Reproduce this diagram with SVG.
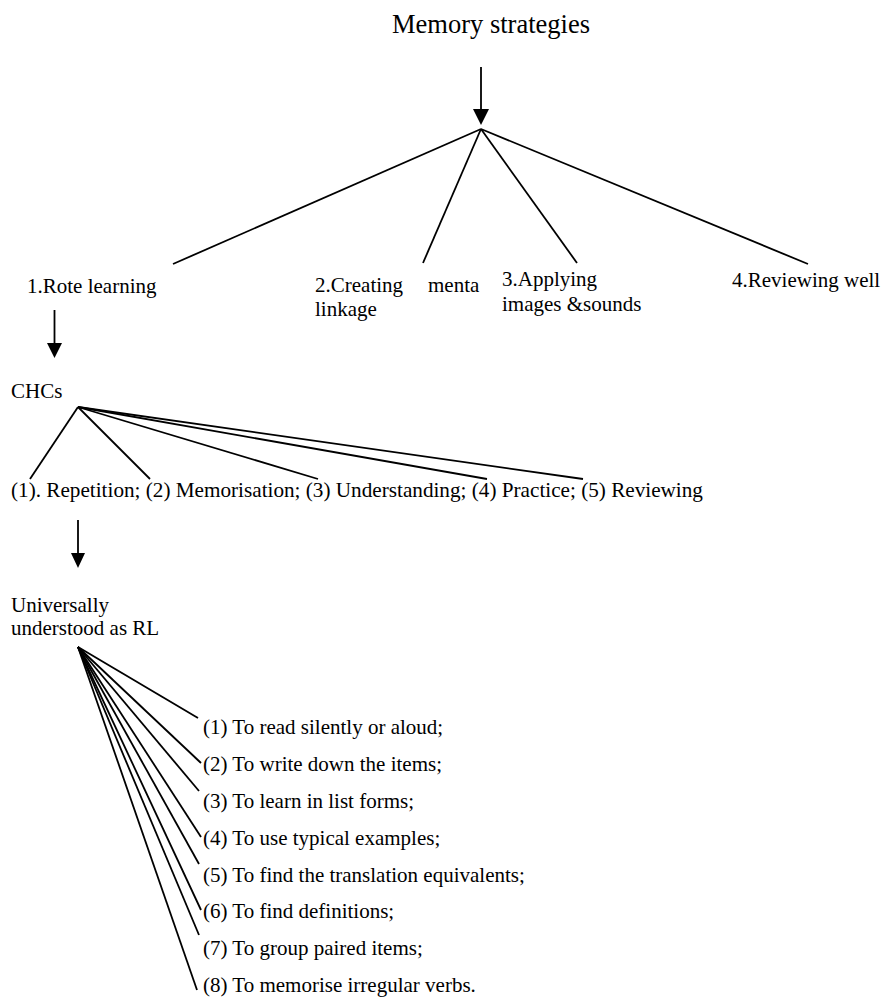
<svg xmlns="http://www.w3.org/2000/svg" width="883" height="997" viewBox="0 0 883 997">
<style>
text{font-family:"Liberation Serif","Times New Roman",serif;font-size:21px;fill:#000}
.title{font-size:26.5px}
.wide{font-size:21.2px}
.ln{stroke:#000;stroke-width:1.8;fill:none}
.hd{fill:#000}
</style>
<rect width="883" height="997" fill="#fff"/>
<g id="connectors">
<line class="ln" x1="481" y1="67" x2="481" y2="111"/>
<polygon class="hd" points="473,109 489,109 481,125"/>
<line class="ln" x1="481" y1="129" x2="173" y2="264"/>
<line class="ln" x1="481" y1="129" x2="423" y2="263"/>
<line class="ln" x1="481" y1="129" x2="577" y2="263"/>
<line class="ln" x1="481" y1="129" x2="808" y2="264"/>
<line class="ln" x1="54.5" y1="310" x2="54.5" y2="345"/>
<polygon class="hd" points="47,343 62,343 54.5,358"/>
<line class="ln" x1="78" y1="407" x2="30" y2="479"/>
<line class="ln" x1="78" y1="407" x2="150" y2="479"/>
<line class="ln" x1="78" y1="407" x2="318" y2="479"/>
<line class="ln" x1="78" y1="407" x2="487" y2="479"/>
<line class="ln" x1="78" y1="407" x2="583" y2="479"/>
<line class="ln" x1="78" y1="520" x2="78" y2="555"/>
<polygon class="hd" points="71,553 85,553 78,568"/>
<line class="ln" x1="78" y1="647" x2="198" y2="718"/>
<line class="ln" x1="78" y1="647" x2="201" y2="763"/>
<line class="ln" x1="78" y1="647" x2="199" y2="791"/>
<line class="ln" x1="78" y1="647" x2="201" y2="837"/>
<line class="ln" x1="78" y1="647" x2="199" y2="864"/>
<line class="ln" x1="78" y1="647" x2="201" y2="910"/>
<line class="ln" x1="78" y1="647" x2="199" y2="935"/>
<line class="ln" x1="78" y1="647" x2="197" y2="990"/>
</g>
<g id="memory-strategies"><text class="title" x="392" y="33">Memory strategies</text></g>
<g id="rote-learning"><text x="27" y="293">1.Rote learning</text></g>
<g id="creating-linkage"><text x="315" y="292">2.Creating</text><text x="428" y="292">menta</text><text x="315" y="316">linkage</text></g>
<g id="applying-images"><text x="502" y="286">3.Applying</text><text x="502" y="311">images &amp;sounds</text></g>
<g id="reviewing-well"><text x="732" y="287">4.Reviewing well</text></g>
<g id="chcs"><text x="11" y="398">CHCs</text></g>
<g id="chc-items"><text class="wide" x="11" y="497">(1). Repetition; (2) Memorisation; (3) Understanding; (4) Practice; (5) Reviewing</text></g>
<g id="universally"><text x="11" y="612">Universally</text><text x="11" y="635">understood as RL</text></g>
<g id="rl-items">
<text x="203" y="734">(1) To read silently or aloud;</text>
<text x="203" y="771">(2) To write down the items;</text>
<text x="203" y="808">(3) To learn in list forms;</text>
<text x="203" y="845">(4) To use typical examples;</text>
<text x="203" y="882">(5) To find the translation equivalents;</text>
<text x="203" y="918">(6) To find definitions;</text>
<text x="203" y="955">(7) To group paired items;</text>
<text x="203" y="992">(8) To memorise irregular verbs.</text>
</g>
</svg>
